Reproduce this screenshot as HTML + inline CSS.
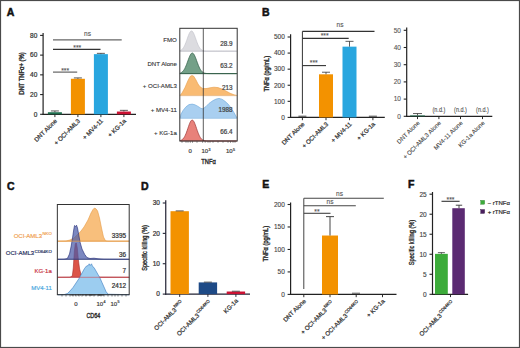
<!DOCTYPE html><html><head><meta charset="utf-8"><style>html,body{margin:0;padding:0;background:#fff;overflow:hidden}svg{display:block}</style></head><body>
<svg width="520" height="348" viewBox="0 0 520 348" font-family='"Liberation Sans", sans-serif'>
<rect x="0.00" y="0.00" width="520.00" height="348.00" fill="#fff"/>
<rect x="0.5" y="0.5" width="519" height="347" fill="none" stroke="#4a4a4a" stroke-width="1.2"/>
<text x="6.80" y="16.00" font-size="10.5" text-anchor="start" fill="#111" font-weight="bold" stroke="#111" stroke-width="0.5">A</text>
<text x="262.00" y="16.00" font-size="10.5" text-anchor="start" fill="#111" font-weight="bold" stroke="#111" stroke-width="0.5">B</text>
<text x="7.00" y="190.00" font-size="10.5" text-anchor="start" fill="#111" font-weight="bold" stroke="#111" stroke-width="0.5">C</text>
<text x="141.00" y="190.00" font-size="10.5" text-anchor="start" fill="#111" font-weight="bold" stroke="#111" stroke-width="0.5">D</text>
<text x="262.30" y="187.70" font-size="10.5" text-anchor="start" fill="#111" font-weight="bold" stroke="#111" stroke-width="0.5">E</text>
<text x="407.90" y="187.60" font-size="10.5" text-anchor="start" fill="#111" font-weight="bold" stroke="#111" stroke-width="0.5">F</text>
<line x1="43.10" y1="32.90" x2="43.10" y2="114.90" stroke="#222" stroke-width="1.2"/>
<line x1="40.10" y1="114.30" x2="43.10" y2="114.30" stroke="#222" stroke-width="1.08"/>
<text x="37.30" y="116.60" font-size="6.5" text-anchor="end" fill="#333" font-weight="normal" stroke="#333" stroke-width="0.22">0</text>
<line x1="40.10" y1="94.57" x2="43.10" y2="94.57" stroke="#222" stroke-width="1.08"/>
<text x="37.30" y="96.87" font-size="6.5" text-anchor="end" fill="#333" font-weight="normal" stroke="#333" stroke-width="0.22">20</text>
<line x1="40.10" y1="74.85" x2="43.10" y2="74.85" stroke="#222" stroke-width="1.08"/>
<text x="37.30" y="77.15" font-size="6.5" text-anchor="end" fill="#333" font-weight="normal" stroke="#333" stroke-width="0.22">40</text>
<line x1="40.10" y1="55.12" x2="43.10" y2="55.12" stroke="#222" stroke-width="1.08"/>
<text x="37.30" y="57.42" font-size="6.5" text-anchor="end" fill="#333" font-weight="normal" stroke="#333" stroke-width="0.22">60</text>
<line x1="40.10" y1="35.40" x2="43.10" y2="35.40" stroke="#222" stroke-width="1.08"/>
<text x="37.30" y="37.70" font-size="6.5" text-anchor="end" fill="#333" font-weight="normal" stroke="#333" stroke-width="0.22">80</text>
<line x1="42.50" y1="114.30" x2="136.00" y2="114.30" stroke="#222" stroke-width="1.2"/>
<line x1="54.90" y1="114.30" x2="54.90" y2="117.10" stroke="#222" stroke-width="0.96"/>
<line x1="77.90" y1="114.30" x2="77.90" y2="117.10" stroke="#222" stroke-width="0.96"/>
<line x1="100.90" y1="114.30" x2="100.90" y2="117.10" stroke="#222" stroke-width="0.96"/>
<line x1="123.90" y1="114.30" x2="123.90" y2="117.10" stroke="#222" stroke-width="0.96"/>
<rect x="47.90" y="112.23" width="14.00" height="2.07" fill="#1f6e4e"/>
<line x1="50.90" y1="110.95" x2="58.90" y2="110.95" stroke="#333" stroke-width="0.8"/>
<line x1="54.90" y1="110.95" x2="54.90" y2="112.23" stroke="#333" stroke-width="0.8"/>
<rect x="70.90" y="78.79" width="14.00" height="35.51" fill="#f39200"/>
<line x1="73.90" y1="77.91" x2="81.90" y2="77.91" stroke="#333" stroke-width="0.8"/>
<line x1="77.90" y1="77.91" x2="77.90" y2="78.79" stroke="#333" stroke-width="0.8"/>
<rect x="93.90" y="54.14" width="14.00" height="60.16" fill="#29a6df"/>
<line x1="96.90" y1="53.35" x2="104.90" y2="53.35" stroke="#333" stroke-width="0.8"/>
<line x1="100.90" y1="53.35" x2="100.90" y2="54.14" stroke="#333" stroke-width="0.8"/>
<rect x="116.90" y="111.54" width="14.00" height="2.76" fill="#cc1233"/>
<line x1="119.90" y1="110.35" x2="127.90" y2="110.35" stroke="#333" stroke-width="0.8"/>
<line x1="123.90" y1="110.35" x2="123.90" y2="111.54" stroke="#333" stroke-width="0.8"/>
<line x1="53.00" y1="39.90" x2="121.70" y2="39.90" stroke="#666" stroke-width="1.3"/>
<text x="87.50" y="35.70" font-size="6.6" text-anchor="middle" fill="#555" font-weight="normal" stroke="#555" stroke-width="0.1">ns</text>
<line x1="53.00" y1="49.40" x2="100.50" y2="49.40" stroke="#333" stroke-width="1.1"/>
<text x="77.30" y="50.10" font-size="6.8" text-anchor="middle" fill="#555" font-weight="normal" stroke="#555" stroke-width="0.1">***</text>
<line x1="53.00" y1="72.10" x2="77.20" y2="72.10" stroke="#555" stroke-width="1.1"/>
<text x="65.20" y="72.50" font-size="6.8" text-anchor="middle" fill="#555" font-weight="normal" stroke="#555" stroke-width="0.1">***</text>
<text x="23.90" y="73.60" font-size="6.6" text-anchor="middle" fill="#333" font-weight="normal" stroke="#333" stroke-width="0.4" transform="rotate(-90 23.90 73.60)" textLength="42.5" lengthAdjust="spacingAndGlyphs">DNT TNFα+ (%)</text>
<text x="57.50" y="121.40" font-size="6.1" text-anchor="end" fill="#333" font-weight="normal" stroke="#333" stroke-width="0.22" transform="rotate(-45 57.50 121.40)">DNT Alone</text>
<text x="80.50" y="121.40" font-size="6.1" text-anchor="end" fill="#333" font-weight="normal" stroke="#333" stroke-width="0.22" transform="rotate(-45 80.50 121.40)">+ OCI-AML3</text>
<text x="103.50" y="121.40" font-size="6.1" text-anchor="end" fill="#333" font-weight="normal" stroke="#333" stroke-width="0.22" transform="rotate(-45 103.50 121.40)">+ MV4-11</text>
<text x="126.50" y="121.40" font-size="6.1" text-anchor="end" fill="#333" font-weight="normal" stroke="#333" stroke-width="0.22" transform="rotate(-45 126.50 121.40)">+ KG-1a</text>
<path d="M180.30,51.20 L180.30,50.52 L180.93,50.21 L181.55,49.80 L182.18,49.26 L182.81,48.57 L183.43,47.71 L184.06,46.66 L184.69,45.41 L185.31,43.99 L185.94,42.40 L186.57,40.69 L187.19,38.91 L187.82,37.12 L188.45,35.42 L189.07,33.89 L189.70,32.60 L190.33,31.64 L190.95,31.06 L191.58,30.90 L192.21,31.17 L192.83,31.85 L193.46,32.90 L194.09,34.26 L194.71,35.85 L195.34,37.58 L195.97,39.36 L196.59,41.13 L197.22,42.82 L197.85,44.37 L198.47,45.75 L199.10,46.94 L199.73,47.94 L200.35,48.76 L200.98,49.41 L201.61,49.92 L202.23,50.30 L202.86,50.58 L203.49,50.78 L204.11,50.93 L204.74,51.02 L205.37,51.09 L205.99,51.13 L206.62,51.16 L207.25,51.18 L207.87,51.19 L208.50,51.19 L209.13,51.20 L209.75,51.20 L210.38,51.20 L211.01,51.20 L211.63,51.20 L212.26,51.20 L212.89,51.20 L213.51,51.20 L214.14,51.20 L214.77,51.20 L215.39,51.20 L216.02,51.20 L216.65,51.20 L217.27,51.20 L217.90,51.20 L218.53,51.20 L219.15,51.20 L219.78,51.20 L220.41,51.20 L221.03,51.20 L221.66,51.20 L222.29,51.20 L222.91,51.20 L223.54,51.20 L224.17,51.20 L224.79,51.20 L225.42,51.20 L226.05,51.20 L226.67,51.20 L227.30,51.20 L227.93,51.20 L228.55,51.20 L229.18,51.20 L229.81,51.20 L230.43,51.20 L231.06,51.20 L231.69,51.20 L232.31,51.20 L232.94,51.20 L233.57,51.20 L234.19,51.20 L234.82,51.20 L235.45,51.20 L236.07,51.20 L236.70,51.20 L236.70,51.20 Z" fill="#dcdce0" stroke="#c0c0c8" stroke-width="0.6" fill-opacity="1" stroke-linejoin="round"/>
<path d="M180.30,73.60 L180.30,73.01 L180.93,72.76 L181.55,72.41 L182.18,71.96 L182.81,71.37 L183.43,70.64 L184.06,69.75 L184.69,68.68 L185.31,67.43 L185.94,66.01 L186.57,64.45 L187.19,62.78 L187.82,61.05 L188.45,59.32 L189.07,57.67 L189.70,56.17 L190.33,54.89 L190.95,53.90 L191.58,53.26 L192.21,53.00 L192.83,53.14 L193.46,53.67 L194.09,54.56 L194.71,55.76 L195.34,57.20 L195.97,58.82 L196.59,60.53 L197.22,62.27 L197.85,63.96 L198.47,65.56 L199.10,67.02 L199.73,68.32 L200.35,69.45 L200.98,70.39 L201.61,71.17 L202.23,71.80 L202.86,72.29 L203.49,72.66 L204.11,72.94 L204.74,73.15 L205.37,73.30 L205.99,73.40 L206.62,73.47 L207.25,73.52 L207.87,73.55 L208.50,73.57 L209.13,73.58 L209.75,73.59 L210.38,73.59 L211.01,73.60 L211.63,73.60 L212.26,73.60 L212.89,73.60 L213.51,73.60 L214.14,73.60 L214.77,73.60 L215.39,73.60 L216.02,73.60 L216.65,73.60 L217.27,73.60 L217.90,73.60 L218.53,73.60 L219.15,73.60 L219.78,73.60 L220.41,73.60 L221.03,73.60 L221.66,73.60 L222.29,73.60 L222.91,73.60 L223.54,73.60 L224.17,73.60 L224.79,73.60 L225.42,73.60 L226.05,73.60 L226.67,73.60 L227.30,73.60 L227.93,73.60 L228.55,73.60 L229.18,73.60 L229.81,73.60 L230.43,73.60 L231.06,73.60 L231.69,73.60 L232.31,73.60 L232.94,73.60 L233.57,73.60 L234.19,73.60 L234.82,73.60 L235.45,73.60 L236.07,73.60 L236.70,73.60 L236.70,73.60 Z" fill="#74a088" stroke="#2d5a44" stroke-width="0.7" fill-opacity="1" stroke-linejoin="round"/>
<path d="M180.30,95.60 L180.30,95.20 L182.00,93.00 L185.00,87.50 L188.00,80.50 L190.30,76.30 L192.00,75.50 L193.80,76.30 L196.00,80.00 L198.00,84.00 L200.00,86.80 L202.60,88.40 L206.00,88.60 L210.00,87.80 L214.00,87.20 L218.00,87.60 L222.00,89.00 L226.00,91.00 L230.00,93.20 L234.00,94.80 L236.70,95.40 L236.70,95.60 Z" fill="#f9bb73" stroke="#e59a45" stroke-width="0.6" fill-opacity="1" stroke-linejoin="round"/>
<path d="M180.30,118.30 L180.30,118.20 L180.80,114.50 L183.00,110.50 L186.00,106.80 L189.00,104.60 L192.20,104.10 L195.00,104.80 L198.00,106.40 L201.00,108.40 L203.00,108.80 L206.00,106.50 L209.00,103.40 L213.00,100.60 L216.00,99.10 L219.00,98.40 L222.00,99.20 L225.00,101.30 L228.00,104.00 L231.00,107.80 L234.00,112.60 L236.70,117.60 L236.70,118.30 Z" fill="#a9cff0" stroke="#6aa6da" stroke-width="0.6" fill-opacity="1" stroke-linejoin="round"/>
<path d="M180.30,141.00 L180.30,140.54 L180.93,140.32 L181.55,140.02 L182.18,139.61 L182.81,139.07 L183.43,138.37 L184.06,137.50 L184.69,136.44 L185.31,135.18 L185.94,133.72 L186.57,132.10 L187.19,130.34 L187.82,128.50 L188.45,126.65 L189.07,124.88 L189.70,123.27 L190.33,121.90 L190.95,120.86 L191.58,120.22 L192.21,120.00 L192.83,120.23 L193.46,120.88 L194.09,121.93 L194.71,123.30 L195.34,124.91 L195.97,126.69 L196.59,128.54 L197.22,130.38 L197.85,132.13 L198.47,133.76 L199.10,135.20 L199.73,136.46 L200.35,137.52 L200.98,138.39 L201.61,139.08 L202.23,139.62 L202.86,140.03 L203.49,140.33 L204.11,140.55 L204.74,140.70 L205.37,140.81 L205.99,140.88 L206.62,140.92 L207.25,140.95 L207.87,140.97 L208.50,140.98 L209.13,140.99 L209.75,140.99 L210.38,141.00 L211.01,141.00 L211.63,141.00 L212.26,141.00 L212.89,141.00 L213.51,141.00 L214.14,141.00 L214.77,141.00 L215.39,141.00 L216.02,141.00 L216.65,141.00 L217.27,141.00 L217.90,141.00 L218.53,141.00 L219.15,141.00 L219.78,141.00 L220.41,141.00 L221.03,141.00 L221.66,141.00 L222.29,141.00 L222.91,141.00 L223.54,141.00 L224.17,141.00 L224.79,141.00 L225.42,141.00 L226.05,141.00 L226.67,141.00 L227.30,141.00 L227.93,141.00 L228.55,141.00 L229.18,141.00 L229.81,141.00 L230.43,141.00 L231.06,141.00 L231.69,141.00 L232.31,141.00 L232.94,141.00 L233.57,141.00 L234.19,141.00 L234.82,141.00 L235.45,141.00 L236.07,141.00 L236.70,141.00 L236.70,141.00 Z" fill="#e8817a" stroke="#9c3535" stroke-width="0.7" fill-opacity="1" stroke-linejoin="round"/>
<line x1="179.80" y1="51.20" x2="237.20" y2="51.20" stroke="#c8c8d0" stroke-width="0.6"/>
<line x1="179.80" y1="73.60" x2="237.20" y2="73.60" stroke="#2d5a44" stroke-width="0.7"/>
<line x1="179.80" y1="95.60" x2="237.20" y2="95.60" stroke="#e8c8a0" stroke-width="0.6"/>
<line x1="179.80" y1="118.30" x2="237.20" y2="118.30" stroke="#c0d8f0" stroke-width="0.6"/>
<rect x="179.8" y="28.3" width="57.40" height="112.70" fill="none" stroke="#333" stroke-width="1.0"/>
<line x1="203.30" y1="28.30" x2="203.30" y2="141.00" stroke="#333" stroke-width="0.8"/>
<text x="176.80" y="42.20" font-size="6.1" text-anchor="end" fill="#333" font-weight="normal" stroke="#333" stroke-width="0.12">FMO</text>
<text x="232.50" y="46.00" font-size="6.3" text-anchor="end" fill="#444" font-weight="normal" stroke="#444" stroke-width="0.22">28.9</text>
<text x="176.80" y="66.00" font-size="6.1" text-anchor="end" fill="#333" font-weight="normal" stroke="#333" stroke-width="0.12">DNT Alone</text>
<text x="232.50" y="67.60" font-size="6.3" text-anchor="end" fill="#444" font-weight="normal" stroke="#444" stroke-width="0.22">63.2</text>
<text x="176.80" y="88.40" font-size="6.1" text-anchor="end" fill="#333" font-weight="normal" stroke="#333" stroke-width="0.12">+ OCI-AML3</text>
<text x="232.50" y="90.00" font-size="6.3" text-anchor="end" fill="#444" font-weight="normal" stroke="#444" stroke-width="0.22">213</text>
<text x="176.80" y="111.80" font-size="6.1" text-anchor="end" fill="#333" font-weight="normal" stroke="#333" stroke-width="0.12">+ MV4-11</text>
<text x="232.50" y="112.20" font-size="6.3" text-anchor="end" fill="#444" font-weight="normal" stroke="#444" stroke-width="0.22">1988</text>
<text x="176.80" y="135.20" font-size="6.1" text-anchor="end" fill="#333" font-weight="normal" stroke="#333" stroke-width="0.12">+ KG-1a</text>
<text x="232.50" y="134.20" font-size="6.3" text-anchor="end" fill="#444" font-weight="normal" stroke="#444" stroke-width="0.22">66.4</text>
<line x1="182.00" y1="141.00" x2="182.00" y2="142.80" stroke="#444" stroke-width="0.6"/>
<line x1="186.00" y1="141.00" x2="186.00" y2="142.80" stroke="#444" stroke-width="0.6"/>
<line x1="188.00" y1="141.00" x2="188.00" y2="142.80" stroke="#444" stroke-width="0.6"/>
<line x1="190.30" y1="141.00" x2="190.30" y2="142.80" stroke="#444" stroke-width="0.6"/>
<line x1="192.50" y1="141.00" x2="192.50" y2="142.80" stroke="#444" stroke-width="0.6"/>
<line x1="197.00" y1="141.00" x2="197.00" y2="142.80" stroke="#444" stroke-width="0.6"/>
<line x1="202.60" y1="141.00" x2="202.60" y2="142.80" stroke="#444" stroke-width="0.6"/>
<line x1="205.20" y1="141.00" x2="205.20" y2="142.80" stroke="#444" stroke-width="0.6"/>
<line x1="208.00" y1="141.00" x2="208.00" y2="142.80" stroke="#444" stroke-width="0.6"/>
<line x1="210.00" y1="141.00" x2="210.00" y2="142.80" stroke="#444" stroke-width="0.6"/>
<line x1="213.00" y1="141.00" x2="213.00" y2="142.80" stroke="#444" stroke-width="0.6"/>
<line x1="218.00" y1="141.00" x2="218.00" y2="142.80" stroke="#444" stroke-width="0.6"/>
<line x1="223.00" y1="141.00" x2="223.00" y2="142.80" stroke="#444" stroke-width="0.6"/>
<line x1="228.00" y1="141.00" x2="228.00" y2="142.80" stroke="#444" stroke-width="0.6"/>
<line x1="230.50" y1="141.00" x2="230.50" y2="142.80" stroke="#444" stroke-width="0.6"/>
<line x1="233.00" y1="141.00" x2="233.00" y2="142.80" stroke="#444" stroke-width="0.6"/>
<line x1="235.00" y1="141.00" x2="235.00" y2="142.80" stroke="#444" stroke-width="0.6"/>
<text x="190.20" y="153.10" font-size="6.0" text-anchor="middle" fill="#444" font-weight="normal" stroke="#444" stroke-width="0.22">0</text>
<text x="206.00" y="153.10" font-size="6.0" text-anchor="middle" fill="#444" font-weight="normal" stroke="#444" stroke-width="0.22">10<tspan font-size="3.6" dy="-2.6" dx="0.5">3</tspan></text>
<text x="230.50" y="153.10" font-size="6.0" text-anchor="middle" fill="#444" font-weight="normal" stroke="#444" stroke-width="0.22">10<tspan font-size="3.6" dy="-2.6" dx="0.5">5</tspan></text>
<text x="208.50" y="164.00" font-size="7.8" text-anchor="middle" fill="#333" font-weight="normal" stroke="#333" stroke-width="0.45" textLength="14.5" lengthAdjust="spacingAndGlyphs">TNFα</text>
<line x1="290.60" y1="34.30" x2="290.60" y2="118.00" stroke="#222" stroke-width="1.2"/>
<line x1="287.60" y1="117.40" x2="290.60" y2="117.40" stroke="#222" stroke-width="1.08"/>
<text x="284.80" y="119.70" font-size="6.5" text-anchor="end" fill="#444" font-weight="normal" stroke="#444" stroke-width="0.12">0</text>
<line x1="287.60" y1="101.32" x2="290.60" y2="101.32" stroke="#222" stroke-width="1.08"/>
<text x="284.80" y="103.62" font-size="6.5" text-anchor="end" fill="#444" font-weight="normal" stroke="#444" stroke-width="0.12">100</text>
<line x1="287.60" y1="85.24" x2="290.60" y2="85.24" stroke="#222" stroke-width="1.08"/>
<text x="284.80" y="87.54" font-size="6.5" text-anchor="end" fill="#444" font-weight="normal" stroke="#444" stroke-width="0.12">200</text>
<line x1="287.60" y1="69.16" x2="290.60" y2="69.16" stroke="#222" stroke-width="1.08"/>
<text x="284.80" y="71.46" font-size="6.5" text-anchor="end" fill="#444" font-weight="normal" stroke="#444" stroke-width="0.12">300</text>
<line x1="287.60" y1="53.08" x2="290.60" y2="53.08" stroke="#222" stroke-width="1.08"/>
<text x="284.80" y="55.38" font-size="6.5" text-anchor="end" fill="#444" font-weight="normal" stroke="#444" stroke-width="0.12">400</text>
<line x1="287.60" y1="37.00" x2="290.60" y2="37.00" stroke="#222" stroke-width="1.08"/>
<text x="284.80" y="39.30" font-size="6.5" text-anchor="end" fill="#444" font-weight="normal" stroke="#444" stroke-width="0.12">500</text>
<line x1="290.00" y1="117.40" x2="384.80" y2="117.40" stroke="#222" stroke-width="1.2"/>
<line x1="302.40" y1="117.40" x2="302.40" y2="120.20" stroke="#222" stroke-width="0.96"/>
<line x1="326.00" y1="117.40" x2="326.00" y2="120.20" stroke="#222" stroke-width="0.96"/>
<line x1="349.50" y1="117.40" x2="349.50" y2="120.20" stroke="#222" stroke-width="0.96"/>
<line x1="372.90" y1="117.40" x2="372.90" y2="120.20" stroke="#222" stroke-width="0.96"/>
<line x1="298.40" y1="116.20" x2="306.40" y2="116.20" stroke="#333" stroke-width="0.9"/>
<rect x="319.00" y="74.31" width="14.00" height="43.09" fill="#f39200"/>
<line x1="322.00" y1="72.22" x2="330.00" y2="72.22" stroke="#333" stroke-width="0.8"/>
<line x1="326.00" y1="72.22" x2="326.00" y2="74.31" stroke="#333" stroke-width="0.8"/>
<rect x="342.50" y="46.65" width="14.00" height="70.75" fill="#29a6df"/>
<line x1="345.50" y1="41.34" x2="353.50" y2="41.34" stroke="#333" stroke-width="0.8"/>
<line x1="349.50" y1="41.34" x2="349.50" y2="46.65" stroke="#333" stroke-width="0.8"/>
<line x1="368.90" y1="116.20" x2="376.90" y2="116.20" stroke="#333" stroke-width="0.9"/>
<line x1="302.40" y1="31.40" x2="374.50" y2="31.40" stroke="#333" stroke-width="1.1"/>
<text x="340.00" y="27.30" font-size="6.6" text-anchor="middle" fill="#555" font-weight="normal" stroke="#555" stroke-width="0.1">ns</text>
<line x1="302.40" y1="38.40" x2="348.70" y2="38.40" stroke="#333" stroke-width="1.1"/>
<text x="324.60" y="38.20" font-size="6.8" text-anchor="middle" fill="#555" font-weight="normal" stroke="#555" stroke-width="0.1">***</text>
<line x1="302.40" y1="65.60" x2="326.00" y2="65.60" stroke="#333" stroke-width="1.1"/>
<text x="313.80" y="65.30" font-size="6.8" text-anchor="middle" fill="#555" font-weight="normal" stroke="#555" stroke-width="0.1">***</text>
<line x1="302.40" y1="31.40" x2="302.40" y2="113.60" stroke="#333" stroke-width="1.0"/>
<text x="269.20" y="73.70" font-size="6.6" text-anchor="middle" fill="#333" font-weight="normal" stroke="#333" stroke-width="0.4" transform="rotate(-90 269.20 73.70)" textLength="35.5" lengthAdjust="spacingAndGlyphs">TNFα (pg/mL)</text>
<text x="305.00" y="124.50" font-size="6.1" text-anchor="end" fill="#333" font-weight="normal" stroke="#333" stroke-width="0.22" transform="rotate(-45 305.00 124.50)">DNT Alone</text>
<text x="328.60" y="124.50" font-size="6.1" text-anchor="end" fill="#333" font-weight="normal" stroke="#333" stroke-width="0.22" transform="rotate(-45 328.60 124.50)">+ OCI-AML3</text>
<text x="352.10" y="124.50" font-size="6.1" text-anchor="end" fill="#333" font-weight="normal" stroke="#333" stroke-width="0.22" transform="rotate(-45 352.10 124.50)">+ MV4-11</text>
<text x="375.50" y="124.50" font-size="6.1" text-anchor="end" fill="#333" font-weight="normal" stroke="#333" stroke-width="0.22" transform="rotate(-45 375.50 124.50)">+ KG-1a</text>
<line x1="406.70" y1="27.50" x2="406.70" y2="116.90" stroke="#222" stroke-width="1.2"/>
<line x1="403.70" y1="116.30" x2="406.70" y2="116.30" stroke="#222" stroke-width="1.08"/>
<text x="400.90" y="118.60" font-size="6.5" text-anchor="end" fill="#555" font-weight="normal" stroke="#555" stroke-width="0.1">0</text>
<line x1="403.70" y1="99.10" x2="406.70" y2="99.10" stroke="#222" stroke-width="1.08"/>
<text x="400.90" y="101.40" font-size="6.5" text-anchor="end" fill="#555" font-weight="normal" stroke="#555" stroke-width="0.1">10</text>
<line x1="403.70" y1="81.90" x2="406.70" y2="81.90" stroke="#222" stroke-width="1.08"/>
<text x="400.90" y="84.20" font-size="6.5" text-anchor="end" fill="#555" font-weight="normal" stroke="#555" stroke-width="0.1">20</text>
<line x1="403.70" y1="64.70" x2="406.70" y2="64.70" stroke="#222" stroke-width="1.08"/>
<text x="400.90" y="67.00" font-size="6.5" text-anchor="end" fill="#555" font-weight="normal" stroke="#555" stroke-width="0.1">30</text>
<line x1="403.70" y1="47.50" x2="406.70" y2="47.50" stroke="#222" stroke-width="1.08"/>
<text x="400.90" y="49.80" font-size="6.5" text-anchor="end" fill="#555" font-weight="normal" stroke="#555" stroke-width="0.1">40</text>
<line x1="403.70" y1="30.30" x2="406.70" y2="30.30" stroke="#222" stroke-width="1.08"/>
<text x="400.90" y="32.60" font-size="6.5" text-anchor="end" fill="#555" font-weight="normal" stroke="#555" stroke-width="0.1">50</text>
<line x1="406.10" y1="116.30" x2="492.30" y2="116.30" stroke="#222" stroke-width="1.2"/>
<line x1="417.50" y1="116.30" x2="417.50" y2="119.10" stroke="#222" stroke-width="0.96"/>
<line x1="438.90" y1="116.30" x2="438.90" y2="119.10" stroke="#222" stroke-width="0.96"/>
<line x1="460.50" y1="116.30" x2="460.50" y2="119.10" stroke="#222" stroke-width="0.96"/>
<line x1="482.50" y1="116.30" x2="482.50" y2="119.10" stroke="#222" stroke-width="0.96"/>
<rect x="410.10" y="115.44" width="14.80" height="0.86" fill="#1f6e4e"/>
<line x1="413.00" y1="113.55" x2="422.00" y2="113.55" stroke="#333" stroke-width="0.8"/>
<line x1="417.50" y1="113.55" x2="417.50" y2="115.44" stroke="#333" stroke-width="0.8"/>
<text x="438.90" y="112.20" font-size="6.6" text-anchor="middle" fill="#444" font-weight="normal" stroke="#444" stroke-width="0.08" textLength="12.9" lengthAdjust="spacingAndGlyphs">(n.d.)</text>
<text x="460.50" y="112.20" font-size="6.6" text-anchor="middle" fill="#444" font-weight="normal" stroke="#444" stroke-width="0.08" textLength="12.9" lengthAdjust="spacingAndGlyphs">(n.d.)</text>
<text x="482.50" y="112.20" font-size="6.6" text-anchor="middle" fill="#444" font-weight="normal" stroke="#444" stroke-width="0.08" textLength="12.9" lengthAdjust="spacingAndGlyphs">(n.d.)</text>
<text x="420.10" y="123.40" font-size="6.1" text-anchor="end" fill="#444" font-weight="normal" stroke="#444" stroke-width="0.1" transform="rotate(-45 420.10 123.40)">DNT Alone</text>
<text x="441.50" y="123.40" font-size="6.1" text-anchor="end" fill="#444" font-weight="normal" stroke="#444" stroke-width="0.1" transform="rotate(-45 441.50 123.40)">+ OCI-AML3 Alone</text>
<text x="463.10" y="123.40" font-size="6.1" text-anchor="end" fill="#444" font-weight="normal" stroke="#444" stroke-width="0.1" transform="rotate(-45 463.10 123.40)">MV4-11 Alone</text>
<text x="485.10" y="123.40" font-size="6.1" text-anchor="end" fill="#444" font-weight="normal" stroke="#444" stroke-width="0.1" transform="rotate(-45 485.10 123.40)">KG-1a Alone</text>
<path d="M57.80,241.20 L57.80,241.20 L66.00,241.00 L70.00,240.00 L74.00,238.00 L78.00,234.00 L80.00,232.30 L84.00,227.00 L88.00,220.00 L91.00,213.00 L93.00,209.50 L94.40,208.10 L96.00,208.80 L97.60,211.00 L99.50,218.00 L101.50,228.00 L103.50,237.00 L105.50,240.80 L108.00,241.20 L129.20,241.20 L129.20,241.20 Z" fill="#f8bf7c" stroke="#e59a45" stroke-width="0.6" fill-opacity="1" stroke-linejoin="round"/>
<path d="M57.80,277.30 L57.80,277.30 L70.00,277.20 L72.30,276.00 L73.30,268.00 L74.30,252.00 L75.30,243.50 L76.40,243.00 L77.30,248.00 L78.40,260.00 L79.60,269.00 L81.00,274.50 L82.50,276.80 L86.00,277.10 L129.20,277.30 L129.20,277.30 Z" fill="#dc5448" stroke="#a82a2a" stroke-width="0.6" fill-opacity="1" stroke-linejoin="round"/>
<path d="M57.80,259.30 L57.80,259.30 L64.00,259.20 L67.30,258.60 L69.50,254.00 L71.20,246.00 L72.50,238.00 L73.70,230.00 L74.50,225.50 L75.50,226.50 L76.50,225.20 L77.50,228.00 L78.60,234.00 L80.00,242.00 L82.00,249.00 L84.60,254.30 L87.00,257.60 L90.00,258.50 L94.00,258.20 L98.00,258.80 L104.00,259.20 L129.20,259.30 L129.20,259.30 Z" fill="#4a5aa8" stroke="#28307a" stroke-width="0.65" fill-opacity="0.72" stroke-linejoin="round"/>
<path d="M57.80,294.70 L57.80,294.70 L64.00,294.60 L67.30,293.60 L70.00,291.00 L73.00,287.50 L76.00,283.00 L79.00,278.50 L82.00,273.00 L84.50,268.50 L86.50,266.00 L88.20,265.50 L89.20,263.80 L90.20,265.50 L91.50,263.80 L92.60,266.50 L94.00,267.50 L96.00,271.00 L98.00,274.50 L100.00,278.00 L102.00,282.50 L104.00,287.00 L106.00,291.50 L108.00,294.20 L129.20,294.70 L129.20,294.70 Z" fill="#9ccdf0" stroke="#3a7abf" stroke-width="0.6" fill-opacity="1" stroke-linejoin="round"/>
<line x1="78.35" y1="294.10" x2="78.35" y2="295.60" stroke="#222" stroke-width="0.35"/>
<line x1="88.46" y1="294.10" x2="88.46" y2="295.60" stroke="#222" stroke-width="0.35"/>
<line x1="82.71" y1="294.10" x2="82.71" y2="295.60" stroke="#222" stroke-width="0.35"/>
<line x1="90.43" y1="294.10" x2="90.43" y2="295.60" stroke="#222" stroke-width="0.35"/>
<line x1="91.15" y1="294.10" x2="91.15" y2="295.60" stroke="#222" stroke-width="0.35"/>
<line x1="72.66" y1="294.10" x2="72.66" y2="295.60" stroke="#222" stroke-width="0.35"/>
<line x1="70.93" y1="294.10" x2="70.93" y2="295.60" stroke="#222" stroke-width="0.35"/>
<line x1="98.14" y1="294.10" x2="98.14" y2="295.60" stroke="#222" stroke-width="0.35"/>
<line x1="79.06" y1="294.10" x2="79.06" y2="295.60" stroke="#222" stroke-width="0.35"/>
<line x1="78.23" y1="294.10" x2="78.23" y2="295.60" stroke="#222" stroke-width="0.35"/>
<line x1="103.36" y1="294.10" x2="103.36" y2="295.60" stroke="#222" stroke-width="0.35"/>
<line x1="86.02" y1="294.10" x2="86.02" y2="295.60" stroke="#222" stroke-width="0.35"/>
<line x1="98.10" y1="294.10" x2="98.10" y2="295.60" stroke="#222" stroke-width="0.35"/>
<line x1="86.22" y1="294.10" x2="86.22" y2="295.60" stroke="#222" stroke-width="0.35"/>
<line x1="91.59" y1="294.10" x2="91.59" y2="295.60" stroke="#222" stroke-width="0.35"/>
<line x1="75.47" y1="294.10" x2="75.47" y2="295.60" stroke="#222" stroke-width="0.35"/>
<line x1="91.45" y1="294.10" x2="91.45" y2="295.60" stroke="#222" stroke-width="0.35"/>
<line x1="99.15" y1="294.10" x2="99.15" y2="295.60" stroke="#222" stroke-width="0.35"/>
<line x1="87.76" y1="294.10" x2="87.76" y2="295.60" stroke="#222" stroke-width="0.35"/>
<line x1="94.96" y1="294.10" x2="94.96" y2="295.60" stroke="#222" stroke-width="0.35"/>
<line x1="92.66" y1="294.10" x2="92.66" y2="295.60" stroke="#222" stroke-width="0.35"/>
<line x1="72.61" y1="294.10" x2="72.61" y2="295.60" stroke="#222" stroke-width="0.35"/>
<line x1="95.52" y1="294.10" x2="95.52" y2="295.60" stroke="#222" stroke-width="0.35"/>
<line x1="90.01" y1="294.10" x2="90.01" y2="295.60" stroke="#222" stroke-width="0.35"/>
<line x1="80.44" y1="294.10" x2="80.44" y2="295.60" stroke="#222" stroke-width="0.35"/>
<line x1="71.52" y1="294.10" x2="71.52" y2="295.60" stroke="#222" stroke-width="0.35"/>
<line x1="99.06" y1="294.10" x2="99.06" y2="295.60" stroke="#222" stroke-width="0.35"/>
<line x1="86.10" y1="294.10" x2="86.10" y2="295.60" stroke="#222" stroke-width="0.35"/>
<line x1="94.22" y1="294.10" x2="94.22" y2="295.60" stroke="#222" stroke-width="0.35"/>
<line x1="99.50" y1="294.10" x2="99.50" y2="295.60" stroke="#222" stroke-width="0.35"/>
<line x1="94.07" y1="294.10" x2="94.07" y2="295.60" stroke="#222" stroke-width="0.35"/>
<line x1="100.90" y1="294.10" x2="100.90" y2="295.60" stroke="#222" stroke-width="0.35"/>
<line x1="83.53" y1="294.10" x2="83.53" y2="295.60" stroke="#222" stroke-width="0.35"/>
<line x1="96.93" y1="294.10" x2="96.93" y2="295.60" stroke="#222" stroke-width="0.35"/>
<line x1="85.17" y1="294.10" x2="85.17" y2="295.60" stroke="#222" stroke-width="0.35"/>
<line x1="101.37" y1="294.10" x2="101.37" y2="295.60" stroke="#222" stroke-width="0.35"/>
<line x1="99.50" y1="294.10" x2="99.50" y2="295.60" stroke="#222" stroke-width="0.35"/>
<line x1="73.72" y1="294.10" x2="73.72" y2="295.60" stroke="#222" stroke-width="0.35"/>
<line x1="74.99" y1="294.10" x2="74.99" y2="295.60" stroke="#222" stroke-width="0.35"/>
<line x1="77.66" y1="294.10" x2="77.66" y2="295.60" stroke="#222" stroke-width="0.35"/>
<line x1="102.36" y1="294.10" x2="102.36" y2="295.60" stroke="#222" stroke-width="0.35"/>
<line x1="84.89" y1="294.10" x2="84.89" y2="295.60" stroke="#222" stroke-width="0.35"/>
<line x1="91.18" y1="294.10" x2="91.18" y2="295.60" stroke="#222" stroke-width="0.35"/>
<line x1="80.43" y1="294.10" x2="80.43" y2="295.60" stroke="#222" stroke-width="0.35"/>
<line x1="87.24" y1="294.10" x2="87.24" y2="295.60" stroke="#222" stroke-width="0.35"/>
<line x1="83.23" y1="294.10" x2="83.23" y2="295.60" stroke="#222" stroke-width="0.35"/>
<line x1="82.08" y1="294.10" x2="82.08" y2="295.60" stroke="#222" stroke-width="0.35"/>
<line x1="89.81" y1="294.10" x2="89.81" y2="295.60" stroke="#222" stroke-width="0.35"/>
<line x1="89.78" y1="294.10" x2="89.78" y2="295.60" stroke="#222" stroke-width="0.35"/>
<line x1="100.34" y1="294.10" x2="100.34" y2="295.60" stroke="#222" stroke-width="0.35"/>
<line x1="93.01" y1="294.10" x2="93.01" y2="295.60" stroke="#222" stroke-width="0.35"/>
<line x1="101.16" y1="294.10" x2="101.16" y2="295.60" stroke="#222" stroke-width="0.35"/>
<line x1="98.76" y1="294.10" x2="98.76" y2="295.60" stroke="#222" stroke-width="0.35"/>
<line x1="103.20" y1="294.10" x2="103.20" y2="295.60" stroke="#222" stroke-width="0.35"/>
<line x1="92.65" y1="294.10" x2="92.65" y2="295.60" stroke="#222" stroke-width="0.35"/>
<line x1="75.88" y1="294.10" x2="75.88" y2="295.60" stroke="#222" stroke-width="0.35"/>
<line x1="98.90" y1="294.10" x2="98.90" y2="295.60" stroke="#222" stroke-width="0.35"/>
<line x1="102.33" y1="294.10" x2="102.33" y2="295.60" stroke="#222" stroke-width="0.35"/>
<line x1="100.35" y1="294.10" x2="100.35" y2="295.60" stroke="#222" stroke-width="0.35"/>
<line x1="89.28" y1="294.10" x2="89.28" y2="295.60" stroke="#222" stroke-width="0.35"/>
<line x1="57.35" y1="241.20" x2="129.20" y2="241.20" stroke="#e8a050" stroke-width="0.7"/>
<line x1="57.35" y1="259.30" x2="129.20" y2="259.30" stroke="#3a4a80" stroke-width="0.6"/>
<line x1="57.35" y1="277.30" x2="129.20" y2="277.30" stroke="#c84858" stroke-width="0.6"/>
<rect x="57.35" y="204.5" width="71.85" height="90.20" fill="none" stroke="#333" stroke-width="1.0"/>
<text x="51.80" y="238.10" font-size="6.0" text-anchor="end" fill="#f0a050" font-weight="normal" stroke="#f0a050" stroke-width="0.18">OCI-AML3<tspan font-size="4.3" dy="-2.8" dx="0.5">NKO</tspan></text>
<text x="126.00" y="237.80" font-size="6.4" text-anchor="end" fill="#333" font-weight="normal" stroke="#333" stroke-width="0.22">3395</text>
<text x="51.80" y="255.30" font-size="6.0" text-anchor="end" fill="#1f2f60" font-weight="normal" stroke="#1f2f60" stroke-width="0.18">OCI-AML3<tspan font-size="4.3" dy="-2.8" dx="0.5">CD64KO</tspan></text>
<text x="126.00" y="256.70" font-size="6.4" text-anchor="end" fill="#333" font-weight="normal" stroke="#333" stroke-width="0.22">36</text>
<text x="51.80" y="272.80" font-size="6.0" text-anchor="end" fill="#c83040" font-weight="normal" stroke="#c83040" stroke-width="0.18">KG-1a</text>
<text x="126.00" y="272.50" font-size="6.4" text-anchor="end" fill="#333" font-weight="normal" stroke="#333" stroke-width="0.22">7</text>
<text x="51.80" y="289.50" font-size="6.0" text-anchor="end" fill="#4aa8e0" font-weight="normal" stroke="#4aa8e0" stroke-width="0.18">MV4-11</text>
<text x="126.00" y="287.70" font-size="6.4" text-anchor="end" fill="#333" font-weight="normal" stroke="#333" stroke-width="0.22">2412</text>
<line x1="62.00" y1="294.70" x2="62.00" y2="296.50" stroke="#333" stroke-width="0.6"/>
<line x1="66.00" y1="294.70" x2="66.00" y2="296.50" stroke="#333" stroke-width="0.6"/>
<line x1="70.00" y1="294.70" x2="70.00" y2="296.50" stroke="#333" stroke-width="0.6"/>
<line x1="73.00" y1="294.70" x2="73.00" y2="296.50" stroke="#333" stroke-width="0.6"/>
<line x1="76.00" y1="294.70" x2="76.00" y2="296.50" stroke="#333" stroke-width="0.6"/>
<line x1="79.00" y1="294.70" x2="79.00" y2="296.50" stroke="#333" stroke-width="0.6"/>
<line x1="82.00" y1="294.70" x2="82.00" y2="296.50" stroke="#333" stroke-width="0.6"/>
<line x1="86.00" y1="294.70" x2="86.00" y2="296.50" stroke="#333" stroke-width="0.6"/>
<line x1="90.00" y1="294.70" x2="90.00" y2="296.50" stroke="#333" stroke-width="0.6"/>
<line x1="94.00" y1="294.70" x2="94.00" y2="296.50" stroke="#333" stroke-width="0.6"/>
<line x1="98.00" y1="294.70" x2="98.00" y2="296.50" stroke="#333" stroke-width="0.6"/>
<line x1="101.00" y1="294.70" x2="101.00" y2="296.50" stroke="#333" stroke-width="0.6"/>
<line x1="104.00" y1="294.70" x2="104.00" y2="296.50" stroke="#333" stroke-width="0.6"/>
<line x1="108.00" y1="294.70" x2="108.00" y2="296.50" stroke="#333" stroke-width="0.6"/>
<line x1="112.00" y1="294.70" x2="112.00" y2="296.50" stroke="#333" stroke-width="0.6"/>
<line x1="115.00" y1="294.70" x2="115.00" y2="296.50" stroke="#333" stroke-width="0.6"/>
<line x1="118.00" y1="294.70" x2="118.00" y2="296.50" stroke="#333" stroke-width="0.6"/>
<line x1="122.00" y1="294.70" x2="122.00" y2="296.50" stroke="#333" stroke-width="0.6"/>
<line x1="126.00" y1="294.70" x2="126.00" y2="296.50" stroke="#333" stroke-width="0.6"/>
<text x="76.00" y="306.00" font-size="6.0" text-anchor="middle" fill="#444" font-weight="normal" stroke="#444" stroke-width="0.22">0</text>
<text x="101.00" y="306.00" font-size="6.0" text-anchor="middle" fill="#444" font-weight="normal" stroke="#444" stroke-width="0.22">10<tspan font-size="3.6" dy="-2.6" dx="0.5">4</tspan></text>
<text x="115.00" y="306.00" font-size="6.0" text-anchor="middle" fill="#444" font-weight="normal" stroke="#444" stroke-width="0.22">10<tspan font-size="3.6" dy="-2.6" dx="0.5">5</tspan></text>
<text x="93.30" y="317.80" font-size="7.6" text-anchor="middle" fill="#333" font-weight="normal" stroke="#333" stroke-width="0.45" textLength="13.8" lengthAdjust="spacingAndGlyphs">CD64</text>
<line x1="165.75" y1="200.20" x2="165.75" y2="294.70" stroke="#223" stroke-width="1.2"/>
<line x1="162.75" y1="294.10" x2="165.75" y2="294.10" stroke="#223" stroke-width="1.08"/>
<text x="159.95" y="296.40" font-size="6.5" text-anchor="end" fill="#333" font-weight="normal" stroke="#333" stroke-width="0.22">0</text>
<line x1="162.75" y1="263.73" x2="165.75" y2="263.73" stroke="#223" stroke-width="1.08"/>
<text x="159.95" y="266.03" font-size="6.5" text-anchor="end" fill="#333" font-weight="normal" stroke="#333" stroke-width="0.22">10</text>
<line x1="162.75" y1="233.37" x2="165.75" y2="233.37" stroke="#223" stroke-width="1.08"/>
<text x="159.95" y="235.67" font-size="6.5" text-anchor="end" fill="#333" font-weight="normal" stroke="#333" stroke-width="0.22">20</text>
<line x1="162.75" y1="203.00" x2="165.75" y2="203.00" stroke="#223" stroke-width="1.08"/>
<text x="159.95" y="205.30" font-size="6.5" text-anchor="end" fill="#333" font-weight="normal" stroke="#333" stroke-width="0.22">30</text>
<line x1="165.15" y1="294.10" x2="250.00" y2="294.10" stroke="#223" stroke-width="1.2"/>
<line x1="179.70" y1="294.10" x2="179.70" y2="296.90" stroke="#223" stroke-width="0.96"/>
<line x1="207.90" y1="294.10" x2="207.90" y2="296.90" stroke="#223" stroke-width="0.96"/>
<line x1="235.90" y1="294.10" x2="235.90" y2="296.90" stroke="#223" stroke-width="0.96"/>
<rect x="170.50" y="211.20" width="18.40" height="82.90" fill="#f39200"/>
<line x1="175.70" y1="210.90" x2="183.70" y2="210.90" stroke="#333" stroke-width="0.8"/>
<rect x="198.70" y="282.41" width="18.40" height="11.69" fill="#1e4a86"/>
<line x1="203.90" y1="282.11" x2="211.90" y2="282.11" stroke="#333" stroke-width="0.8"/>
<rect x="226.70" y="291.52" width="18.40" height="2.58" fill="#cc1233"/>
<line x1="231.90" y1="291.22" x2="239.90" y2="291.22" stroke="#333" stroke-width="0.8"/>
<text x="147.00" y="248.00" font-size="6.3" text-anchor="middle" fill="#333" font-weight="normal" stroke="#333" stroke-width="0.35" transform="rotate(-90 147.00 248.00)" textLength="45.5" lengthAdjust="spacingAndGlyphs">Specific killing (%)</text>
<text x="183.90" y="303.40" font-size="6.1" text-anchor="end" fill="#333" font-weight="normal" stroke="#333" stroke-width="0.22" transform="rotate(-45 183.90 303.40)">OCI-AML3<tspan font-size="4.3" dy="-2.8" dx="0.5">NKO</tspan></text>
<text x="212.10" y="303.40" font-size="6.1" text-anchor="end" fill="#333" font-weight="normal" stroke="#333" stroke-width="0.22" transform="rotate(-45 212.10 303.40)">OCI-AML3<tspan font-size="4.3" dy="-2.8" dx="0.5">CD64KO</tspan></text>
<text x="238.50" y="301.20" font-size="6.1" text-anchor="end" fill="#333" font-weight="normal" stroke="#333" stroke-width="0.22" transform="rotate(-45 238.50 301.20)">KG-1a</text>
<line x1="290.60" y1="202.40" x2="290.60" y2="295.00" stroke="#222" stroke-width="1.2"/>
<line x1="287.60" y1="294.40" x2="290.60" y2="294.40" stroke="#222" stroke-width="1.08"/>
<text x="284.80" y="296.70" font-size="6.5" text-anchor="end" fill="#444" font-weight="normal" stroke="#444" stroke-width="0.12">0</text>
<line x1="287.60" y1="271.92" x2="290.60" y2="271.92" stroke="#222" stroke-width="1.08"/>
<text x="284.80" y="274.22" font-size="6.5" text-anchor="end" fill="#444" font-weight="normal" stroke="#444" stroke-width="0.12">50</text>
<line x1="287.60" y1="249.45" x2="290.60" y2="249.45" stroke="#222" stroke-width="1.08"/>
<text x="284.80" y="251.75" font-size="6.5" text-anchor="end" fill="#444" font-weight="normal" stroke="#444" stroke-width="0.12">100</text>
<line x1="287.60" y1="226.97" x2="290.60" y2="226.97" stroke="#222" stroke-width="1.08"/>
<text x="284.80" y="229.28" font-size="6.5" text-anchor="end" fill="#444" font-weight="normal" stroke="#444" stroke-width="0.12">150</text>
<line x1="287.60" y1="204.50" x2="290.60" y2="204.50" stroke="#222" stroke-width="1.08"/>
<text x="284.80" y="206.80" font-size="6.5" text-anchor="end" fill="#444" font-weight="normal" stroke="#444" stroke-width="0.12">200</text>
<line x1="290.00" y1="294.40" x2="396.50" y2="294.40" stroke="#222" stroke-width="1.2"/>
<line x1="303.80" y1="294.40" x2="303.80" y2="297.20" stroke="#222" stroke-width="0.96"/>
<line x1="330.00" y1="294.40" x2="330.00" y2="297.20" stroke="#222" stroke-width="0.96"/>
<line x1="356.20" y1="294.40" x2="356.20" y2="297.20" stroke="#222" stroke-width="0.96"/>
<line x1="382.50" y1="294.40" x2="382.50" y2="297.20" stroke="#222" stroke-width="0.96"/>
<rect x="322.00" y="235.52" width="16.00" height="58.88" fill="#f39200"/>
<line x1="326.00" y1="216.64" x2="334.00" y2="216.64" stroke="#444" stroke-width="1.0"/>
<line x1="330.00" y1="216.64" x2="330.00" y2="235.52" stroke="#444" stroke-width="1.0"/>
<line x1="352.00" y1="293.20" x2="360.00" y2="293.20" stroke="#222" stroke-width="0.7"/>
<line x1="303.80" y1="198.30" x2="383.80" y2="198.30" stroke="#444" stroke-width="1.1"/>
<text x="339.50" y="196.30" font-size="6.6" text-anchor="middle" fill="#555" font-weight="normal" stroke="#555" stroke-width="0.1">ns</text>
<line x1="303.80" y1="205.80" x2="355.80" y2="205.80" stroke="#444" stroke-width="1.1"/>
<text x="330.00" y="204.30" font-size="6.6" text-anchor="middle" fill="#555" font-weight="normal" stroke="#555" stroke-width="0.1">ns</text>
<line x1="303.80" y1="213.30" x2="330.50" y2="213.30" stroke="#444" stroke-width="1.1"/>
<text x="317.00" y="213.60" font-size="6.8" text-anchor="middle" fill="#555" font-weight="normal" stroke="#555" stroke-width="0.1">**</text>
<line x1="303.80" y1="198.30" x2="303.80" y2="289.00" stroke="#444" stroke-width="1.0"/>
<text x="267.90" y="243.70" font-size="6.6" text-anchor="middle" fill="#333" font-weight="normal" stroke="#333" stroke-width="0.4" transform="rotate(-90 267.90 243.70)" textLength="35.5" lengthAdjust="spacingAndGlyphs">TNFα (pg/mL)</text>
<text x="306.40" y="301.50" font-size="6.1" text-anchor="end" fill="#333" font-weight="normal" stroke="#333" stroke-width="0.22" transform="rotate(-45 306.40 301.50)">DNT Alone</text>
<text x="334.20" y="303.70" font-size="6.1" text-anchor="end" fill="#333" font-weight="normal" stroke="#333" stroke-width="0.22" transform="rotate(-45 334.20 303.70)">+ OCI-AML3<tspan font-size="4.3" dy="-2.8" dx="0.5">NKO</tspan></text>
<text x="360.40" y="303.70" font-size="6.1" text-anchor="end" fill="#333" font-weight="normal" stroke="#333" stroke-width="0.22" transform="rotate(-45 360.40 303.70)">+ OCI-AML3<tspan font-size="4.3" dy="-2.8" dx="0.5">CD64KO</tspan></text>
<text x="385.10" y="301.50" font-size="6.1" text-anchor="end" fill="#333" font-weight="normal" stroke="#333" stroke-width="0.22" transform="rotate(-45 385.10 301.50)">+ KG-1a</text>
<line x1="432.50" y1="192.00" x2="432.50" y2="294.90" stroke="#222" stroke-width="1.2"/>
<line x1="429.50" y1="294.30" x2="432.50" y2="294.30" stroke="#222" stroke-width="1.08"/>
<text x="426.70" y="296.60" font-size="6.5" text-anchor="end" fill="#444" font-weight="normal" stroke="#444" stroke-width="0.15">0</text>
<line x1="429.50" y1="274.28" x2="432.50" y2="274.28" stroke="#222" stroke-width="1.08"/>
<text x="426.70" y="276.58" font-size="6.5" text-anchor="end" fill="#444" font-weight="normal" stroke="#444" stroke-width="0.15">5</text>
<line x1="429.50" y1="254.26" x2="432.50" y2="254.26" stroke="#222" stroke-width="1.08"/>
<text x="426.70" y="256.56" font-size="6.5" text-anchor="end" fill="#444" font-weight="normal" stroke="#444" stroke-width="0.15">10</text>
<line x1="429.50" y1="234.24" x2="432.50" y2="234.24" stroke="#222" stroke-width="1.08"/>
<text x="426.70" y="236.54" font-size="6.5" text-anchor="end" fill="#444" font-weight="normal" stroke="#444" stroke-width="0.15">15</text>
<line x1="429.50" y1="214.22" x2="432.50" y2="214.22" stroke="#222" stroke-width="1.08"/>
<text x="426.70" y="216.52" font-size="6.5" text-anchor="end" fill="#444" font-weight="normal" stroke="#444" stroke-width="0.15">20</text>
<line x1="429.50" y1="194.20" x2="432.50" y2="194.20" stroke="#222" stroke-width="1.08"/>
<text x="426.70" y="196.50" font-size="6.5" text-anchor="end" fill="#444" font-weight="normal" stroke="#444" stroke-width="0.15">25</text>
<line x1="431.90" y1="294.30" x2="468.10" y2="294.30" stroke="#222" stroke-width="1.2"/>
<line x1="450.50" y1="294.30" x2="450.50" y2="297.10" stroke="#222" stroke-width="0.96"/>
<rect x="435.00" y="253.86" width="12.80" height="40.44" fill="#3cab3a"/>
<line x1="437.90" y1="252.66" x2="444.90" y2="252.66" stroke="#333" stroke-width="0.8"/>
<line x1="441.40" y1="252.66" x2="441.40" y2="253.86" stroke="#333" stroke-width="0.8"/>
<rect x="452.30" y="208.21" width="12.50" height="86.09" fill="#5b2a72"/>
<line x1="455.80" y1="205.21" x2="462.20" y2="205.21" stroke="#333" stroke-width="0.9"/>
<line x1="459.00" y1="205.21" x2="459.00" y2="208.21" stroke="#333" stroke-width="0.9"/>
<line x1="441.50" y1="201.30" x2="459.60" y2="201.30" stroke="#333" stroke-width="1.1"/>
<text x="450.50" y="202.10" font-size="6.8" text-anchor="middle" fill="#555" font-weight="normal" stroke="#555" stroke-width="0.1">***</text>
<rect x="480.80" y="200.40" width="3.80" height="3.80" fill="#3cab3a" stroke="#2a7a2a" stroke-width="0.4"/>
<text x="487.70" y="204.50" font-size="6.0" text-anchor="start" fill="#333" font-weight="normal" stroke="#333" stroke-width="0.22">− rTNFα</text>
<rect x="480.80" y="209.60" width="3.80" height="3.80" fill="#4a1f5e" stroke="#2a0a3a" stroke-width="0.4"/>
<text x="487.70" y="213.70" font-size="6.0" text-anchor="start" fill="#333" font-weight="normal" stroke="#333" stroke-width="0.22">+ rTNFα</text>
<text x="413.90" y="242.60" font-size="6.3" text-anchor="middle" fill="#333" font-weight="normal" stroke="#333" stroke-width="0.35" transform="rotate(-90 413.90 242.60)" textLength="45.5" lengthAdjust="spacingAndGlyphs">Specific killing (%)</text>
<text x="454.70" y="303.60" font-size="6.1" text-anchor="end" fill="#333" font-weight="normal" stroke="#333" stroke-width="0.22" transform="rotate(-45 454.70 303.60)">OCI-AML3<tspan font-size="4.3" dy="-2.8" dx="0.5">CD64KO</tspan></text>
</svg></body></html>
